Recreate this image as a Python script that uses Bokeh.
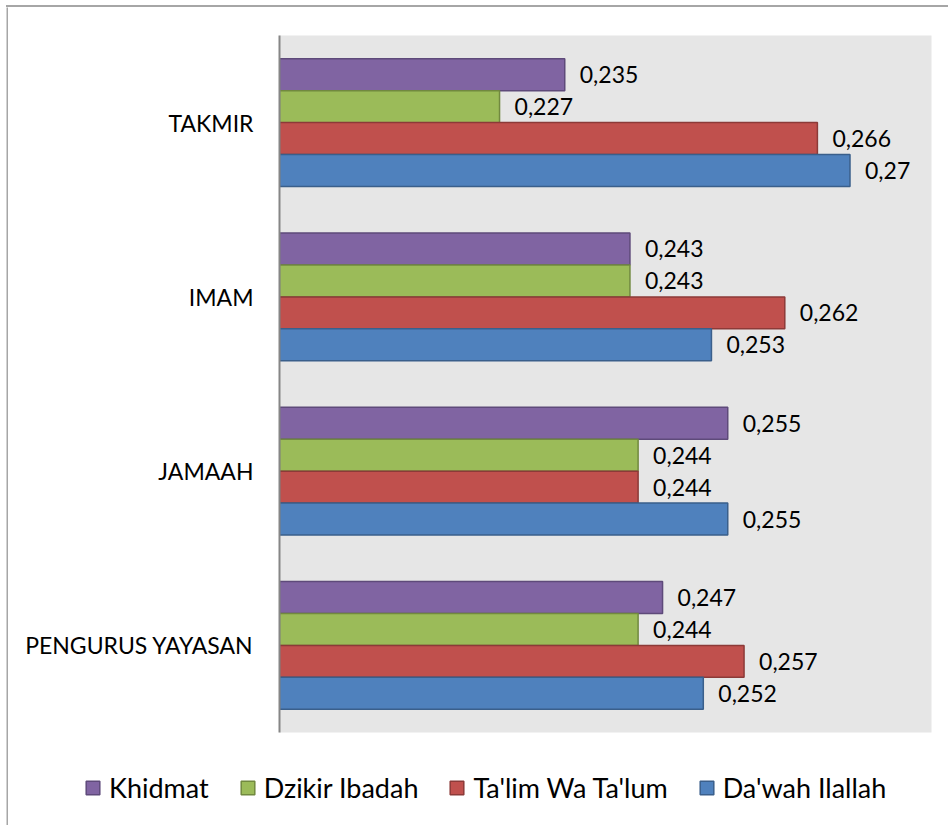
from bokeh.plotting import figure
from bokeh.layouts import column, row
from bokeh.models import ColumnDataSource, Legend, LegendItem, Range1d, FactorRange, Spacer
from bokeh.transform import dodge
from bokeh.core.properties import value
from bokeh.embed import file_html
from bokeh.resources import INLINE

# ---- data ----
categories = ["TAKMIR", "IMAM", "JAMAAH", "PENGURUS YAYASAN"]
series_names = ["Khidmat", "Dzikir Ibadah", "Ta'lim Wa Ta'lum", "Da'wah Ilallah"]
khidmat = [0.235, 0.243, 0.255, 0.247]
dzikir_ibadah = [0.227, 0.243, 0.244, 0.244]
talim_wa_talum = [0.266, 0.262, 0.244, 0.257]
dawah_ilallah = [0.27, 0.253, 0.255, 0.252]
x_start, x_end = 0.20, 0.28

# ---- styles ----
FONT = "Lato"
BORDER = "#a6a6a6"
fills = ["#8064A2", "#9BBB59", "#C0504D", "#4F81BD"]
edges = ["#5E4A7A", "#71893F", "#8C3A38", "#3A5F8B"]
bar_h = 0.1836
offsets = [1.5 * bar_h, 0.5 * bar_h, -0.5 * bar_h, -1.5 * bar_h]

y_range = FactorRange(*reversed(categories))
x_range = Range1d(x_start, x_end)

p = figure(
    y_range=y_range, x_range=x_range,
    width=940, height=753,
    output_backend="svg", toolbar_location=None,
    min_border_left=271, min_border_right=17,
    min_border_top=28, min_border_bottom=28,
)
p.background_fill_color = "#e6e6e6"
p.border_fill_color = "white"
p.outline_line_color = None
p.xgrid.visible = False
p.ygrid.visible = False
p.xaxis.visible = False

p.yaxis.axis_line_color = "#868686"
p.yaxis.axis_line_width = 2
p.yaxis.major_tick_line_color = None
p.yaxis.minor_tick_line_color = None
p.yaxis.major_tick_out = 0
p.yaxis.major_tick_in = 0
p.yaxis.major_label_standoff = 26
p.yaxis.major_label_text_font = FONT
p.yaxis.major_label_text_font_size = "23px"
p.yaxis.major_label_text_color = "black"

data = dict(cat=categories)
all_series = [khidmat, dzikir_ibadah, talim_wa_talum, dawah_ilallah]
for i, vals in enumerate(all_series):
    data[f"v{i}"] = vals
    data[f"l{i}"] = [str(v).replace(".", ",") for v in vals]
src = ColumnDataSource(data)

# legend strip (separate figure so the legend is not clipped by the plot frame)
lg = figure(
    y_range=y_range, x_range=x_range, width=940, height=65,
    output_backend="svg", toolbar_location=None,
    x_axis_location=None, y_axis_location=None, min_border=0,
)
lg.grid.visible = False
lg.outline_line_color = None
lg.background_fill_color = "white"
lg.border_fill_color = "white"

items = []
for i, name in enumerate(series_names):
    p.hbar(y=dodge("cat", offsets[i], range=y_range), right=f"v{i}", left=x_start,
           height=bar_h, source=src, fill_color=fills[i], line_color=edges[i],
           line_width=1.5)
    p.text(x=f"v{i}", y=dodge("cat", offsets[i], range=y_range), text=f"l{i}",
           source=src, x_offset=15, text_baseline="middle", text_align="left",
           text_font=value(FONT), text_font_size="23px", text_color="black")
    r = lg.hbar(y=dodge("cat", offsets[i], range=y_range), right=f"v{i}", left=x_start,
                height=bar_h, source=src, fill_color=fills[i], line_color=edges[i],
                line_width=1.5, visible=False)
    items.append(LegendItem(label=name, renderers=[r]))

legend = Legend(
    items=items, orientation="horizontal", location=(76, 21),
    glyph_width=17, glyph_height=17, label_standoff=8, spacing=30,
    padding=0, margin=0, border_line_color=None, background_fill_alpha=0,
    label_text_font=FONT, label_text_font_size="27px", label_text_color="black",
)
lg.add_layout(legend)


def vstrip(w, h):
    s = figure(width=w, height=h, output_backend="svg", toolbar_location=None,
               x_axis_location=None, y_axis_location=None, min_border=0)
    s.grid.visible = False
    s.outline_line_color = None
    s.background_fill_color = BORDER
    s.border_fill_color = BORDER
    return s


layout = row(
    Spacer(width=6, height=825),
    column(
        Spacer(width=942, height=5),
        Spacer(width=942, height=2, styles={"background-color": BORDER}),
        row(vstrip(2, 818), column(p, row(lg))),
    ),
)

open("out.html", "w").write(file_html(layout, INLINE))
